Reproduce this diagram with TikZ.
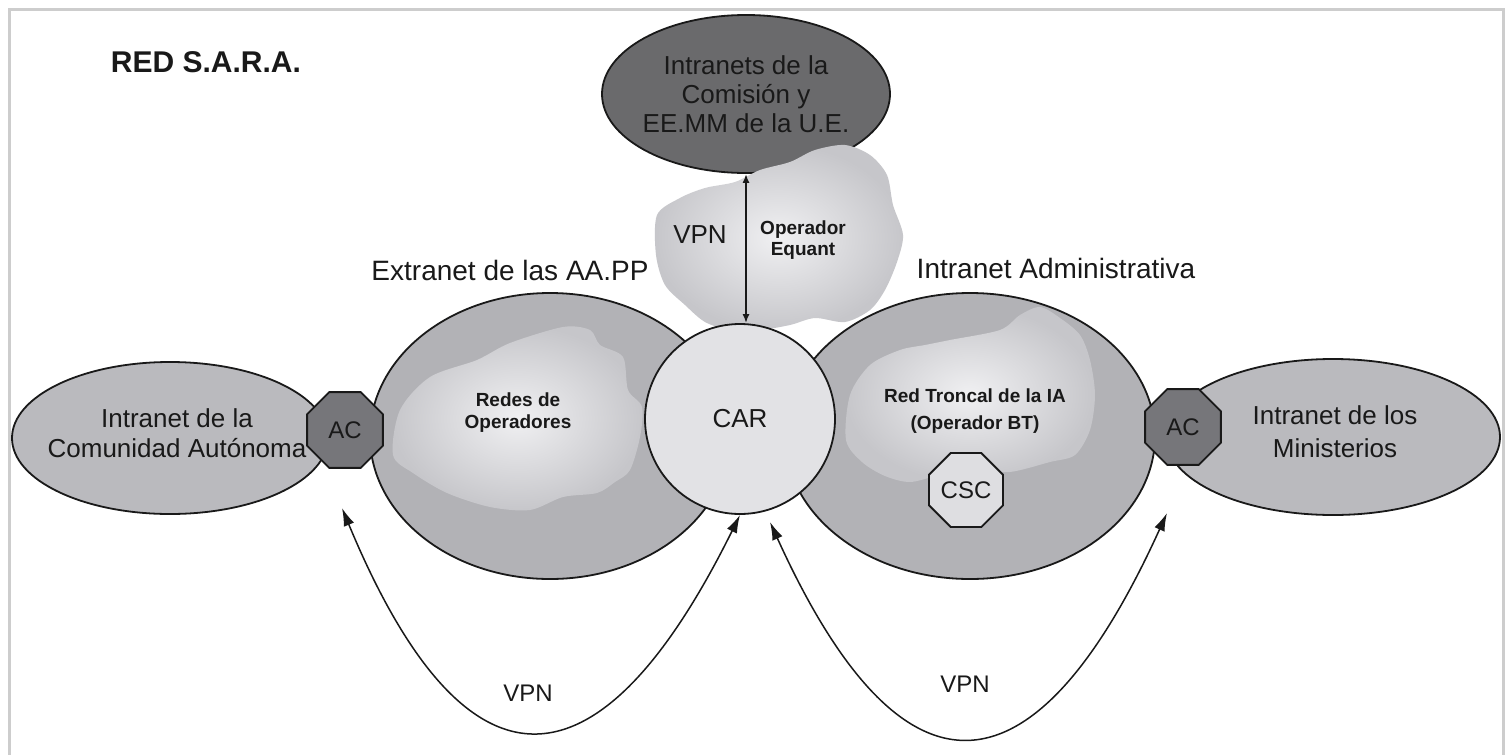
\documentclass[tikz,border=0pt]{standalone}
\usepackage{fontspec}
\setmainfont{Liberation Sans}
\usetikzlibrary{shapes.geometric,arrows.meta}
\definecolor{framec}{RGB}{205,205,205}
\definecolor{topc}{RGB}{106,106,108}
\definecolor{bigc}{RGB}{178,178,182}
\definecolor{smallc}{RGB}{186,186,190}
\definecolor{acc}{RGB}{118,118,122}
\definecolor{carc}{RGB}{226,226,229}
\definecolor{cscc}{RGB}{222,222,225}
\definecolor{cloudin}{RGB}{240,240,242}
\definecolor{cloudout}{RGB}{198,198,202}
\definecolor{inkc}{RGB}{25,25,25}
\newcommand{\fsz}[2]{\fontsize{#1}{#2}\selectfont}
\begin{document}
\begin{tikzpicture}[x=1pt,y=-1pt,
  shapeline/.style={draw=inkc,line width=1.8pt},
  ell/.style={shapeline,ellipse,inner sep=0pt},
  octo/.style={shapeline,regular polygon,regular polygon sides=8,inner sep=0pt,minimum size=82pt,text=inkc,font=\fsz{24}{26}},
  lbl/.style={text=inkc,align=center,inner sep=0pt},
  biglbl/.style={lbl,font=\fsz{26}{30}},
  smalllbl/.style={lbl,font=\bfseries\fsz{19}{23}},
  cloudshade/.style={inner color=cloudin,outer color=cloudout},
  conn/.style={draw=inkc,line width=1.5pt},
  bigtips/.style={{Latex[length=18pt,width=11pt]}-{Latex[length=18pt,width=11pt]}},
  smalltips/.style={{Latex[length=9pt,width=7pt]}-{Latex[length=9pt,width=7pt]}}
]
\useasboundingbox (0,0) rectangle (1505,755);
\fill[white] (0,0) rectangle (1505,755);
\draw[framec,line width=3pt] (9,760) -- (9,9) -- (1503,9) -- (1503,760);

% top ellipse
\node[ell,fill=topc,minimum width=288pt,minimum height=158pt] (top) at (746,94) {};
% top cloud
\shade[cloudshade] plot[smooth cycle] coordinates {(657,215) (680,198) (705,188) (735,182) (760,170) (790,162) (815,150) (845,145) (870,155) (887,175) (893,205) (903,235) (897,262) (885,290) (870,310) (845,322) (815,318) (790,325) (760,330) (730,330) (705,322) (685,305) (665,285) (656,255)};

% big ellipses
\node[ell,fill=bigc,minimum width=360pt,minimum height=286pt] (extranet) at (550,436) {};
\node[ell,fill=bigc,minimum width=370pt,minimum height=286pt] (intradm) at (970,436) {};

% inner clouds
\shade[cloudshade] plot[smooth cycle] coordinates {(393,455) (400,410) (430,377) (477,360) (510,343) (563,327) (590,330) (600,345) (623,357) (628,390) (642,407) (640,437) (630,470) (615,482) (597,493) (563,497) (530,510) (490,507) (447,493) (413,473)};
\shade[cloudshade] plot[smooth cycle] coordinates {(846,440) (850,395) (870,365) (900,350) (925,345) (950,340) (1000,330) (1020,315) (1040,307) (1060,318) (1080,335) (1090,360) (1095,395) (1090,430) (1075,455) (1050,462) (1010,472) (975,470) (940,475) (910,482) (885,476) (862,462)};

% small ellipses
\node[ell,fill=smallc,minimum width=316pt,minimum height=152pt] (comunidad) at (170,438) {};
\node[ell,fill=smallc,minimum width=334pt,minimum height=156pt] (ministerios) at (1333,437) {};

% octagons
\node[octo,fill=acc] (acL) at (345,430) {AC};
\node[octo,fill=acc] (acR) at (1183,427) {AC};
\node[octo,fill=cscc,minimum size=80pt] (csc) at (966,490) {CSC};

% CAR
\node[shapeline,circle,fill=carc,minimum size=190pt,inner sep=0pt,text=inkc,font=\fsz{26}{30}] (car) at (740,419) {CAR};

% connectors
\draw[conn,line width=1.8pt,smalltips] (top.south) -- (top.south |- car.north);
\coordinate (vpnLa) at (342,508);
\coordinate (vpnRa) at (770,522);
\coordinate (vpnRb) at (1167,513);
\draw[conn,bigtips] (vpnLa) .. controls (464,802) and (597,804) .. (car.south);
\draw[conn,bigtips] (vpnRa) .. controls (901,811) and (1033,808) .. (vpnRb);

% texts
\node[lbl,font=\bfseries\fsz{30}{34}] (title) at (206,62) {RED S.A.R.A.};
\node[biglbl,font=\fsz{26}{29}] (toptext) at (top) {Intranets de la\\Comisión y\\EE.MM de la U.E.};
\node[biglbl] (vpntop) at (700,235) {VPN};
\node[smalllbl,font=\bfseries\fsz{19}{21}] (equant) at (803,240) {Operador\\Equant};
\node[lbl,font=\fsz{28}{30}] (extranettxt) at (510,270) {Extranet de las AA.PP};
\node[lbl,font=\fsz{28}{30}] (intradmtxt) at (1056,268) {Intranet Administrativa};
\node[smalllbl,font=\bfseries\fsz{19}{22}] (redes) at (518,413) {Redes de\\Operadores};
\node[smalllbl,font=\bfseries\fsz{19}{27}] (troncal) at (975,411) {Red Troncal de la IA\\(Operador BT)};
\node[biglbl] (comtxt) at (177,433) {Intranet de la\\Comunidad Autónoma};
\node[biglbl,font=\fsz{26}{33}] (mintxt) at (1335,432) {Intranet de los\\Ministerios};
\node[lbl,font=\fsz{24}{26}] (vpnL) at (528,693) {VPN};
\node[lbl,font=\fsz{24}{26}] (vpnR) at (965,684) {VPN};
\end{tikzpicture}
\end{document}
